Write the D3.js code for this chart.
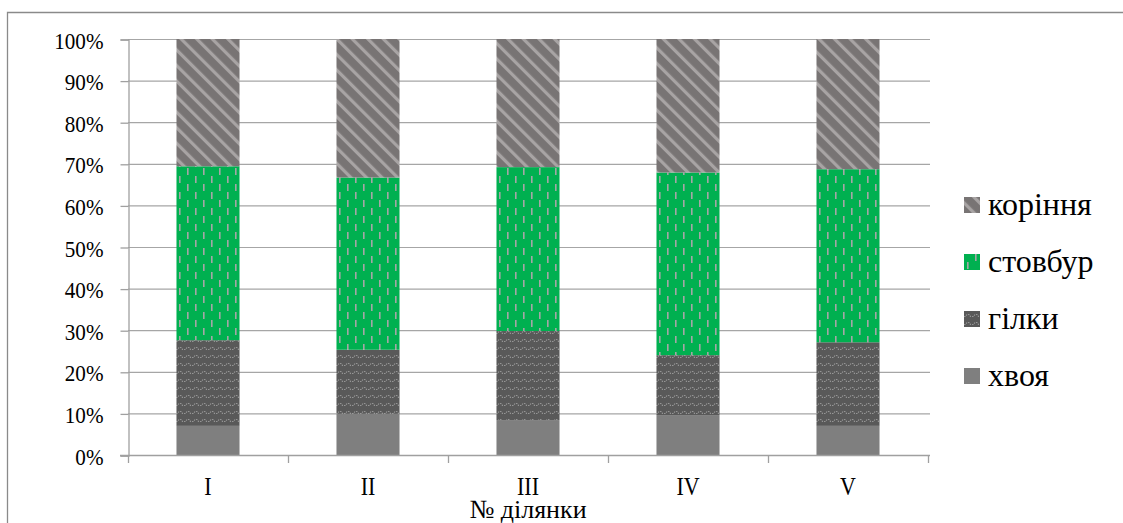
<!DOCTYPE html>
<html>
<head>
<meta charset="utf-8">
<script src="https://cdn.jsdelivr.net/npm/d3@7"></script>
<style>
  body { margin: 0; background: #fff; }
  svg { display: block; }
</style>
</head>
<body>
<script>
// ділянки
var categories = ["I", "II", "III", "IV", "V"]

// частки фракцій, %
var khvoya  = [7.0, 9.9, 8.4, 9.6, 7.0]
var hilky   = [20.6, 15.4, 21.4, 14.4, 20.1]
var stovbur = [41.8, 41.4, 39.4, 43.9, 41.6]
var korinnia = [30.6, 33.3, 30.8, 32.1, 31.3]

var seriesNames = ["хвоя", "гілки", "стовбур", "коріння"]
var yTicks = [0, 0.1, 0.2, 0.3, 0.4, 0.5, 0.6, 0.7, 0.8, 0.9, 1]

var w = 1123
var h = 523
var plotLeft = 128, plotRight = 928, plotTop = 39, plotBottom = 455
var serif = "'Liberation Serif', 'Times New Roman', serif"
var squeeze = 0.88   // labels in the original are a bit narrow

var rows = categories.map(function (c, i) {
  return { cat: c, "хвоя": khvoya[i], "гілки": hilky[i], "стовбур": stovbur[i], "коріння": korinnia[i] }
})

var svg = d3.select("body").append("svg")
  .attr("width", w)
  .attr("height", h)

// patterns
var defs = svg.append("defs")

var pRoot = defs.append("pattern")
  .attr("id", "p-korinnia")
  .attr("patternUnits", "userSpaceOnUse")
  .attr("width", 11).attr("height", 11)
  .attr("patternTransform", "rotate(-45)")
pRoot.append("rect").attr("width", 11).attr("height", 11).attr("fill", "#787474")
pRoot.append("rect").attr("width", 3.2).attr("height", 11).attr("fill", "#a8a4a4")

var pTrunk = defs.append("pattern")
  .attr("id", "p-stovbur")
  .attr("patternUnits", "userSpaceOnUse")
  .attr("width", 16).attr("height", 16)
pTrunk.append("rect").attr("width", 16).attr("height", 16).attr("fill", "#00b050")
pTrunk.append("rect").attr("x", 3).attr("y", 0).attr("width", 1.6).attr("height", 7).attr("fill", "#a6a6a6")
pTrunk.append("rect").attr("x", 11).attr("y", 8).attr("width", 1.6).attr("height", 7).attr("fill", "#a6a6a6")

var pBranch = defs.append("pattern")
  .attr("id", "p-hilky")
  .attr("patternUnits", "userSpaceOnUse")
  .attr("width", 8).attr("height", 8)
pBranch.append("rect").attr("width", 8).attr("height", 8).attr("fill", "#595959")
pBranch.append("path")
  .attr("d", "M0,5.5 h1.5 l1.5,-2 h2 l1.5,2 h1.5")
  .attr("fill", "none")
  .attr("stroke", "#959595")
  .attr("stroke-width", 1.1)
  .attr("stroke-dasharray", "1.5,1")

var fills = {
  "хвоя": "#7f7f7f",
  "гілки": "url(#p-hilky)",
  "стовбур": "url(#p-stovbur)",
  "коріння": "url(#p-korinnia)"
}

// outer frame
svg.append("path")
  .attr("d", "M7.5," + h + " V12.5 H" + w)
  .attr("fill", "none")
  .attr("stroke", "#8a8a8a")
  .attr("stroke-width", 1.3)

var x = d3.scaleBand()
  .domain(categories)
  .range([plotLeft, plotRight])
  .paddingInner(0.606)
  .paddingOuter(0.303)

var y = d3.scaleLinear()
  .domain([0, 1])
  .range([plotBottom, plotTop])

// gridlines
svg.append("g")
  .selectAll("line")
  .data(yTicks.slice(1))
  .enter()
  .append("line")
  .attr("x1", plotLeft).attr("x2", plotRight + 2)
  .attr("y1", function (d) { return y(d) + 0.5 })
  .attr("y2", function (d) { return y(d) + 0.5 })
  .attr("stroke", "#a6a6a6")
  .attr("stroke-width", 1.2)

var stack = d3.stack()
  .keys(seriesNames)
  .offset(d3.stackOffsetExpand)

svg.append("g")
  .selectAll("g")
  .data(stack(rows))
  .enter()
  .append("g")
  .attr("fill", function (d) { return fills[d.key] })
  .selectAll("rect")
  .data(function (d) { return d })
  .enter()
  .append("rect")
  .attr("x", function (d) { return x(d.data.cat) })
  .attr("width", x.bandwidth())
  .attr("y", function (d) { return y(d[1]) })
  .attr("height", function (d) { return y(d[0]) - y(d[1]) })

// y axis
var yAxis = svg.append("g")
  .attr("transform", "translate(" + (plotLeft + 0.5) + ",0.5)")
  .call(d3.axisLeft(y).tickValues(yTicks).tickFormat(d3.format(".0%")).tickSize(8).tickPadding(17))
yAxis.select(".domain").attr("stroke", "#a0a0a0").attr("stroke-width", 1.3)
yAxis.selectAll(".tick line").attr("stroke", "#a0a0a0").attr("stroke-width", 1.3)
yAxis.selectAll(".tick text")
  .style("font-family", serif)
  .attr("font-size", 24)
  .attr("fill", "#000")
  .attr("x", -25 / squeeze)
  .attr("dy", "0.36em")
  .attr("transform", "scale(" + squeeze + ",1)")

// x axis
svg.append("line")
  .attr("x1", plotLeft - 8).attr("x2", plotRight + 2)
  .attr("y1", plotBottom + 0.5).attr("y2", plotBottom + 0.5)
  .attr("stroke", "#a0a0a0").attr("stroke-width", 1.3)

var bounds = d3.range(categories.length + 1).map(function (i) { return x.range()[0] + i * x.step() })
svg.append("g")
  .selectAll("line")
  .data(bounds)
  .enter()
  .append("line")
  .attr("x1", function (d) { return d + 0.5 })
  .attr("x2", function (d) { return d + 0.5 })
  .attr("y1", plotBottom)
  .attr("y2", plotBottom + 8)
  .attr("stroke", "#a0a0a0").attr("stroke-width", 1.3)

svg.append("g")
  .selectAll("text")
  .data(categories)
  .enter()
  .append("text")
  .attr("transform", function (d) { return "translate(" + (x(d) + x.bandwidth() / 2) + ",495) scale(" + squeeze + ",1)" })
  .attr("text-anchor", "middle")
  .style("font-family", serif)
  .attr("font-size", 25)
  .text(function (d) { return d })

svg.append("text")
  .attr("x", (plotLeft + plotRight) / 2)
  .attr("y", 518)
  .attr("text-anchor", "middle")
  .style("font-family", serif)
  .attr("font-size", 26)
  .text("№ ділянки")

// legend
var legendNames = seriesNames.slice().reverse()
var legend = svg.append("g")
  .selectAll("g")
  .data(legendNames)
  .enter()
  .append("g")
  .attr("transform", function (d, i) { return "translate(964," + (205 + i * 57) + ")" })

legend.append("rect")
  .attr("x", 0).attr("y", -8)
  .attr("width", 16).attr("height", 16)
  .attr("fill", function (d) { return fills[d] })

legend.append("text")
  .attr("x", 24)
  .attr("y", 10)
  .style("font-family", serif)
  .attr("font-size", 32)
  .text(function (d) { return d })
</script>
</body>
</html>
